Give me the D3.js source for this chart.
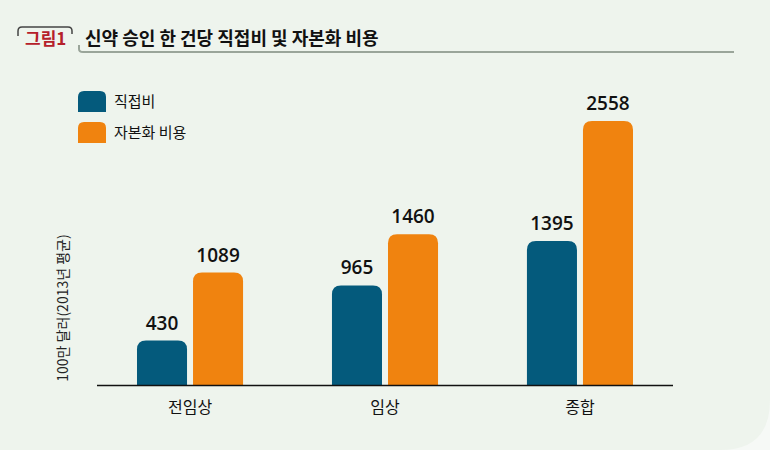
<!DOCTYPE html>
<html><head><meta charset="utf-8">
<script src="https://cdnjs.cloudflare.com/ajax/libs/d3/7.8.5/d3.min.js"></script>
<style>
html,body{margin:0;padding:0;background:#f6f9f6;}
svg{display:block;font-family:"Noto Sans CJK KR","Noto Sans",sans-serif;}
</style></head><body>
<svg id="c" width="770" height="450"></svg>
<script>
const categories = ["전임상", "임상", "종합"];
const seriesNames = ["직접비", "자본화 비용"];
const directCost = [430, 965, 1395];
const capitalizedCost = [1089, 1460, 2558];
const colors = ["#045a7c", "#f0830f"];
const titleTag = "그림1";
const titleText = "신약 승인 한 건당 직접비 및 자본화 비용";
const yLabel = "100만 달러(2013년 평균)";

const svg = d3.select("#c");
svg.append("path")
  .attr("d", "M0,0 H770 V400 Q770,450 720,450 H0 Z")
  .attr("fill", "#eef4ed");

const hdr = svg.append("g");
hdr.append("path")
  .attr("d", "M18,36 V31 Q18,27 22,27 H68 Q72,27 72,31 V34")
  .attr("fill", "none").attr("stroke", "#444").attr("stroke-width", 1.5);
hdr.append("text").attr("x", 25).attr("y", 45)
  .attr("font-size", 17).attr("font-weight", 700).attr("fill", "#b5202a")
  .text(titleTag);
hdr.append("path")
  .attr("d", "M79,45 V49 Q79,52 83,52 H734")
  .attr("fill", "none").attr("stroke", "#9aa59a").attr("stroke-width", 2);
hdr.append("text").attr("x", 85).attr("y", 45)
  .attr("font-size", 18).attr("font-weight", 700).attr("fill", "#111")
  .text(titleText);

const x0 = d3.scaleBand().domain(categories).range([98, 672]).paddingInner(0.456).paddingOuter(0.2);
const x1 = d3.scaleBand().domain(seriesNames).range([0, x0.bandwidth()]).paddingInner(0.107);
const y = d3.scaleLinear().domain([0, 2558]).range([385, 121]);

const data = categories.map((c, i) => ({cat: c, vals: [directCost[i], capitalizedCost[i]]}));

function topRounded(x, yTop, w, h, r) {
  return `M${x},${yTop + h} V${yTop + r} Q${x},${yTop} ${x + r},${yTop} H${x + w - r} Q${x + w},${yTop} ${x + w},${yTop + r} V${yTop + h} Z`;
}

const groups = svg.append("g").selectAll("g").data(data).join("g")
  .attr("transform", d => `translate(${x0(d.cat)},0)`);
groups.selectAll("path").data(d => d.vals.map((v, j) => ({v, s: seriesNames[j], j})))
  .join("path")
  .attr("d", d => topRounded(x1(d.s), y(d.v), x1.bandwidth(), y(0) - y(d.v), 9))
  .attr("fill", d => colors[d.j]);
groups.selectAll("text").data(d => d.vals.map((v, j) => ({v, s: seriesNames[j], j})))
  .join("text")
  .attr("x", d => x1(d.s) + x1.bandwidth() / 2)
  .attr("y", d => y(d.v) - 11)
  .attr("text-anchor", "middle")
  .attr("font-family", "'Open Sans', sans-serif")
  .attr("font-size", 19).attr("font-weight", 600).attr("fill", "#111")
  .text(d => d.v);

const xAxis = svg.append("g").attr("transform", `translate(0,${y(0)})`)
  .call(d3.axisBottom(x0).tickSize(0).tickPadding(17));
xAxis.select(".domain").attr("d", "M97,0.5H673").attr("stroke", "#111").attr("stroke-width", 1.5);
xAxis.selectAll("text").attr("font-size", 16).attr("fill", "#111")
  .attr("font-family", "'Noto Sans CJK KR', sans-serif");

svg.append("text")
  .attr("transform", "translate(68,308) rotate(-90)")
  .attr("text-anchor", "middle").attr("font-size", 14).attr("fill", "#222")
  .text(yLabel);

const lg = svg.append("g").selectAll("g").data(seriesNames).join("g")
  .attr("transform", (d, i) => `translate(78,${91 + i * 31})`);
lg.append("path").attr("d", topRounded(0, 0, 28, 21, 6)).attr("fill", (d, i) => colors[i]);
lg.append("text").attr("x", 36).attr("y", 16).attr("font-size", 15).attr("fill", "#111").text(d => d);
</script>
</body></html>
